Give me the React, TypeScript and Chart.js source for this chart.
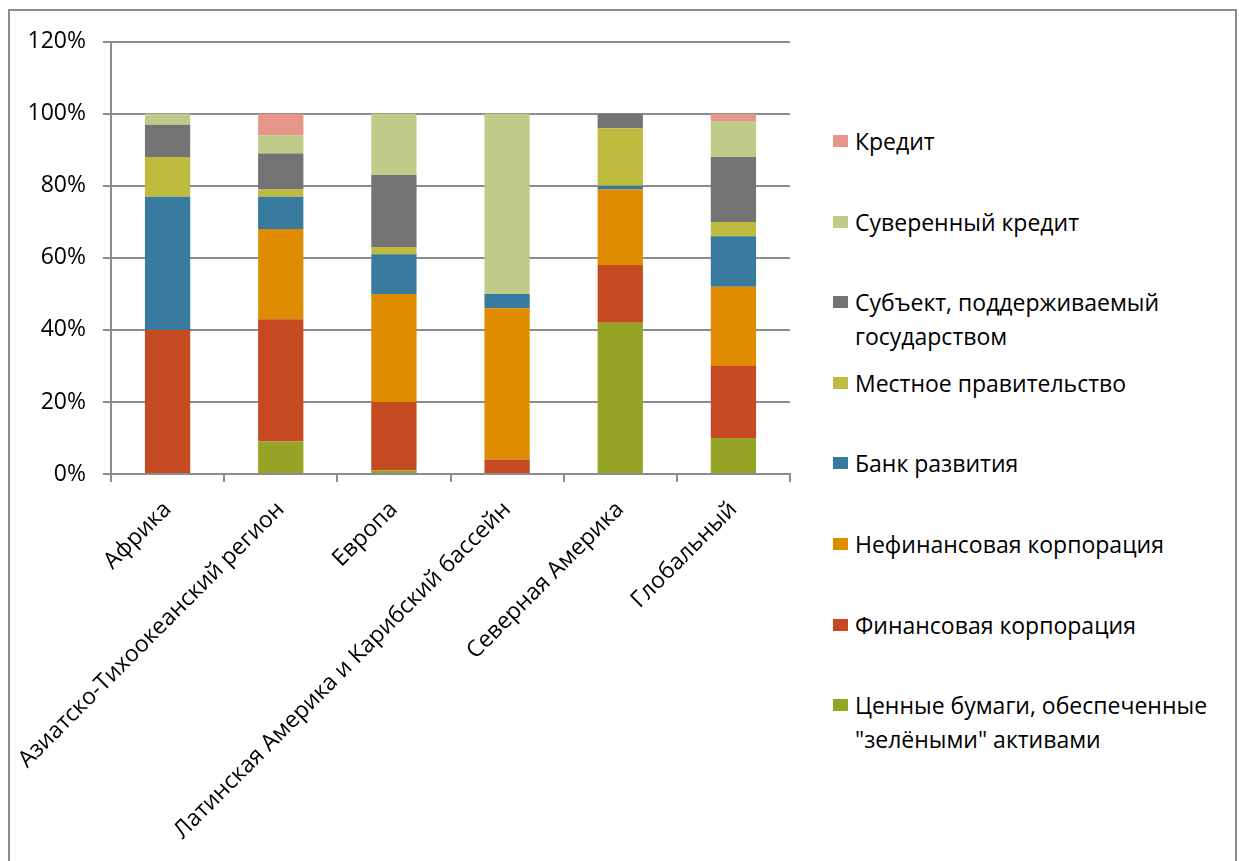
import React, { useEffect, useRef } from "react";
import { Chart, registerables } from "chart.js";

Chart.register(...registerables);

const categories = [
  "Африка",
  "Азиатско-Тихоокеанский регион",
  "Европа",
  "Латинская Америка и Карибский бассейн",
  "Северная Америка",
  "Глобальный",
];

// values in %, bottom to top of each stack
const greenSecurities = [0, 9, 1, 0, 42, 10];
const financialCorp = [40, 34, 19, 4, 16, 20];
const nonFinancialCorp = [0, 25, 30, 42, 21, 22];
const developmentBank = [37, 9, 11, 4, 1, 14];
const localGovernment = [11, 2, 2, 0, 16, 4];
const stateBacked = [9, 10, 20, 0, 4, 18];
const sovereign = [3, 5, 17, 50, 0, 10];
const loan = [0, 6, 0, 0, 0, 2];

const yTickStep = 20;
const yMax = 120;

const seriesNames = [
  "Ценные бумаги, обеспеченные\n\"зелёными\" активами",
  "Финансовая корпорация",
  "Нефинансовая корпорация",
  "Банк развития",
  "Местное правительство",
  "Субъект, поддерживаемый\nгосударством",
  "Суверенный кредит",
  "Кредит",
];
const seriesValues = [
  greenSecurities,
  financialCorp,
  nonFinancialCorp,
  developmentBank,
  localGovernment,
  stateBacked,
  sovereign,
  loan,
];
const seriesColors = [
  "#95A424",
  "#C54A22",
  "#E08C00",
  "#377A9E",
  "#BFBB3F",
  "#737373",
  "#C0CB8A",
  "#E6958A",
];

const FONT = "'Open Sans', 'DejaVu Sans', sans-serif";
const GRID = "#8C8C8C";

export default function App() {
  const canvasRef = useRef<HTMLCanvasElement | null>(null);

  useEffect(() => {
    if (!canvasRef.current) return;
    const chart = new Chart(canvasRef.current, {
      type: "bar",
      data: {
        labels: categories,
        datasets: seriesNames.map((name, i) => ({
          label: name.replace("\n", " "),
          data: seriesValues[i],
          backgroundColor: seriesColors[i],
          borderWidth: 0,
          categoryPercentage: 1,
          barPercentage: 0.4,
        })),
      },
      options: {
        animation: false,
        responsive: false,
        devicePixelRatio: 1,
        layout: { padding: { left: 0, top: 28, right: 20, bottom: 0 } },
        plugins: {
          legend: { display: false },
          tooltip: { enabled: false },
        },
        scales: {
          x: {
            stacked: true,
            grid: {
              drawOnChartArea: false,
              drawTicks: true,
              tickLength: 8,
              color: GRID,
              lineWidth: 2,
              offset: true,
            },
            border: { color: GRID, width: 2 },
            ticks: {
              minRotation: 45,
              maxRotation: 45,
              autoSkip: false,
              padding: 14,
              color: "#000",
              font: { family: FONT, size: 23 },
            },
            afterFit: (s: any) => {
              s.height = 387;
            },
          },
          y: {
            stacked: true,
            min: 0,
            max: yMax,
            ticks: {
              stepSize: yTickStep,
              padding: 17,
              color: "#000",
              font: { family: FONT, size: 23 },
              callback: (v: any) => v + "%",
            },
            grid: {
              color: GRID,
              lineWidth: 2,
              tickLength: 8,
            },
            border: { color: GRID, width: 2 },
            afterFit: (s: any) => {
              s.width = 101;
            },
          },
        },
      },
    });
    return () => chart.destroy();
  }, []);

  const legendOrder = seriesNames.map((n, i) => i).reverse();

  return (
    <div
      style={{
        position: "fixed",
        left: 8,
        top: 9,
        width: 1225,
        height: 860,
        borderTop: `2px solid ${GRID}`,
        borderLeft: `2px solid ${GRID}`,
        borderRight: `2px solid ${GRID}`,
        background: "#fff",
      }}
    >
      <canvas
        ref={canvasRef}
        width={800}
        height={850}
        style={{ position: "absolute", left: 0, top: 0, width: 800, height: 850 }}
      />
      <div style={{ position: "absolute", left: 823, top: 113, fontFamily: FONT, fontSize: 23, color: "#000" }}>
        {legendOrder.map((i) => (
          <div key={i} style={{ height: 80.6, display: "flex", alignItems: "flex-start" }}>
            <div
              style={{
                width: 15,
                height: 12,
                background: seriesColors[i],
                marginTop: 11,
                marginRight: 7,
                flex: "none",
              }}
            />
            <div style={{ whiteSpace: "pre-line", lineHeight: "34px" }}>{seriesNames[i]}</div>
          </div>
        ))}
      </div>
    </div>
  );
}
